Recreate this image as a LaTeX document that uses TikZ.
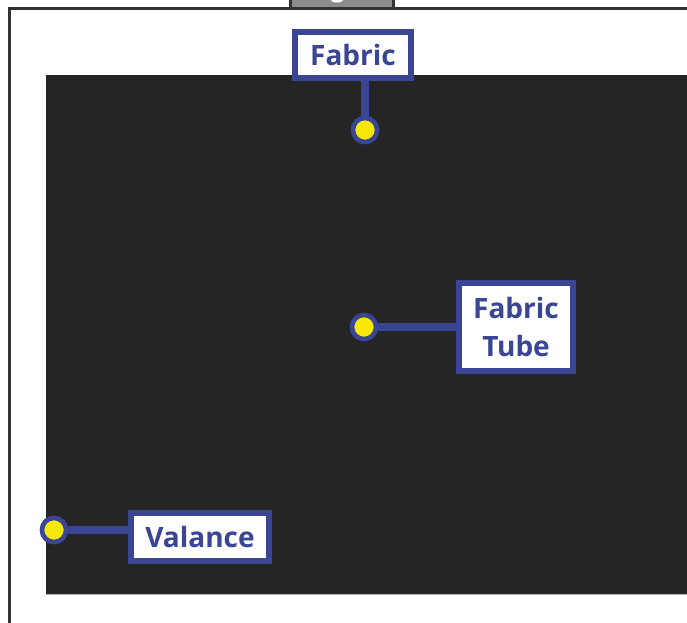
\documentclass[tikz,border=0pt]{standalone}
\usepackage{fontspec}
\setmainfont{Open Sans}
\definecolor{lblue}{HTML}{3A4594}
\definecolor{dot}{HTML}{F7E80A}
\definecolor{panel}{HTML}{252525}
\definecolor{frame}{HTML}{333333}
\definecolor{tab}{HTML}{8C8C8C}
\tikzset{
  lbl/.style={draw=lblue, line width=6pt, fill=white, text=lblue, font=\bfseries\fontsize{28}{38}\selectfont, align=center, inner sep=0pt},
  pin/.style={circle, draw=lblue, line width=4.5pt, fill=dot, minimum size=24pt, inner sep=0pt},
  lead/.style={draw=lblue, line width=8pt}
}
\begin{document}
\begin{tikzpicture}[x=1pt,y=-1pt]
\useasboundingbox (0,0) rectangle (687,622);
\fill[white] (0,0) rectangle (687,622);
% outer frame
\draw[frame, line width=3pt] (9.5,625) -- (9.5,8.5) -- (690,8.5);
% tab
\draw[frame, fill=tab, line width=3pt] (290.5,-3) rectangle (393.5,8.5);
\fill[white] (337,0) ellipse (6 and 2.5);
% dark panel
\fill[panel] (46,75) rectangle (690,594);
\draw[gray!60, line width=1pt] (46,594) -- (690,594);
% labels
\node[lbl, minimum width=116pt, minimum height=46pt] (fab) at (353,55) {Fabric};
\node[lbl, minimum width=114pt, minimum height=88pt] (tube) at (516,327) {Fabric\\Tube};
\node[lbl, minimum width=138pt, minimum height=48pt] (val) at (200,537) {Valance};
% pins
\node[pin] (p1) at (365,130) {};
\node[pin] (p2) at (364,327) {};
\node[pin] (p3) at (54,530) {};
\draw[lead] (fab.south -| p1) -- (p1);
\draw[lead] (p2) -- (tube.west);
\draw[lead] (p3) -- (val.west |- p3);
\node[pin] at (p1) {};
\node[pin] at (p2) {};
\node[pin] at (p3) {};
\end{tikzpicture}
\end{document}
